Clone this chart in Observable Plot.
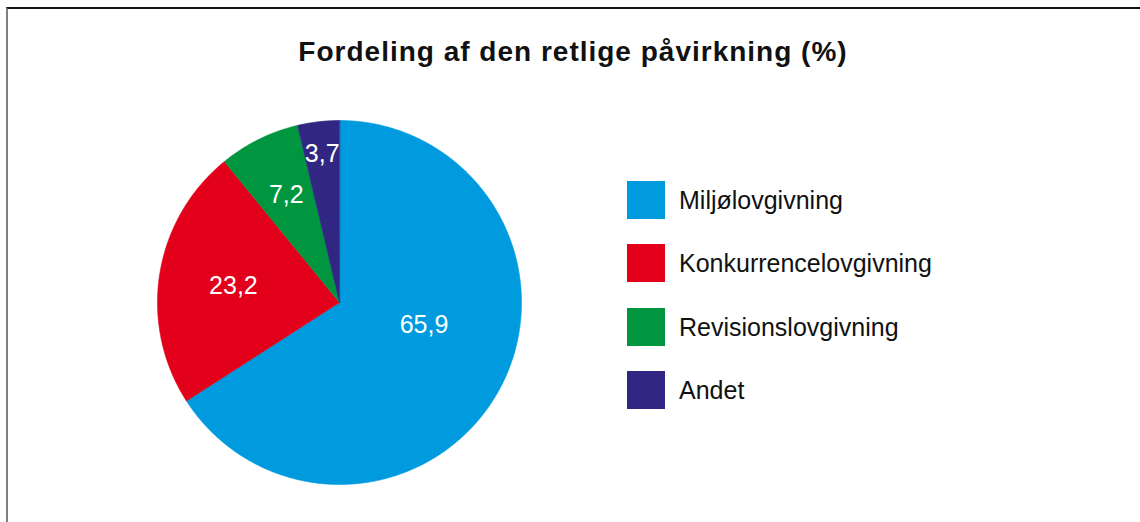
<!DOCTYPE html>
<html>
<head>
<meta charset="utf-8">
<script src="https://cdn.jsdelivr.net/npm/d3@7"></script>
<script src="https://cdn.jsdelivr.net/npm/@observablehq/plot@0.6"></script>
<style>
  html, body { margin: 0; padding: 0; background: #fff; }
  body { font-family: "Liberation Sans", Arial, Helvetica, sans-serif; }
  #wrap { position: relative; width: 1140px; height: 522px; overflow: hidden; background: #fff; }
  #frame { position: absolute; left: 6px; top: 7px; width: 1140px; height: 530px;
           border-top: 2px solid #151515; border-left: 2px solid #7f7f7f; box-sizing: border-box; }
  #chart { position: absolute; left: 0; top: 0; }
  #title { position: absolute; left: 0; width: 1146px; top: 37px; text-align: center;
           font-weight: bold; font-size: 28px; letter-spacing: 1px; color: #111; line-height: 30px; }
  #legend { position: absolute; left: 627px; top: 181px; }
  .item { display: flex; align-items: center; height: 38px; margin-bottom: 25.33px; }
  .sw { width: 38px; height: 38px; margin-right: 14px; flex: none; }
  .lab { font-size: 25px; color: #111; line-height: 38px; }
</style>
</head>
<body>
<div id="wrap">
  <div id="frame"></div>
  <div id="chart"></div>
  <div id="title"></div>
  <div id="legend"></div>
</div>
<script>
// ---- data ----
const titleText = "Fordeling af den retlige påvirkning (%)";
const categories = ["Miljølovgivning", "Konkurrencelovgivning", "Revisionslovgivning", "Andet"];
const values = [65.9, 23.2, 7.2, 3.7];
const colors = ["#009ade", "#e2001a", "#009640", "#312783"];

// ---- layout tweaks for label placement (radius fraction, angle shift in degrees) ----
const labelRadius = [0.48, 0.59, 0.66, 0.82];
const labelAngleShift = [-14, 0, 0, 0];

const rows = categories.map((c, i) => ({cat: c, value: values[i], i}));
const arcs = d3.pie().sort(null).value(d => d.value)(rows);

// polygon points for each slice, angle measured clockwise from 12 o'clock
const pts = [];
arcs.forEach(a => {
  const n = Math.max(2, Math.ceil((a.endAngle - a.startAngle) / 0.01));
  pts.push({cat: a.data.cat, x: 0, y: 0});
  for (let k = 0; k <= n; k++) {
    const t = a.startAngle + (a.endAngle - a.startAngle) * k / n;
    pts.push({cat: a.data.cat, x: Math.sin(t), y: Math.cos(t)});
  }
});

const labels = arcs.map(a => {
  const i = a.data.i;
  const mid = (a.startAngle + a.endAngle) / 2 + labelAngleShift[i] * Math.PI / 180;
  const r = labelRadius[i];
  return {x: r * Math.sin(mid), y: r * Math.cos(mid), text: a.data.value.toFixed(1).replace(".", ",")};
});

const chart = Plot.plot({
  width: 1140,
  height: 522,
  marginLeft: 157,
  marginRight: 619,
  marginTop: 120,
  marginBottom: 38,
  x: {domain: [-1, 1], axis: null},
  y: {domain: [-1, 1], axis: null},
  color: {domain: categories, range: colors},
  style: {background: "transparent", fontFamily: "'Liberation Sans', Arial, sans-serif"},
  marks: [
    Plot.line(pts, {x: "x", y: "y", z: "cat", fill: "cat", stroke: "cat", strokeWidth: 0.6, curve: "linear-closed"}),
    Plot.text(labels, {x: "x", y: "y", text: "text", fill: "white", fontSize: 25, textAnchor: "middle"})
  ]
});
document.getElementById("chart").appendChild(chart);

document.getElementById("title").textContent = titleText;
const legend = document.getElementById("legend");
categories.forEach((c, i) => {
  const it = document.createElement("div");
  it.className = "item";
  const sw = document.createElement("div");
  sw.className = "sw";
  sw.style.background = colors[i];
  const lb = document.createElement("div");
  lb.className = "lab";
  lb.textContent = c;
  it.appendChild(sw);
  it.appendChild(lb);
  legend.appendChild(it);
});
</script>
</body>
</html>
